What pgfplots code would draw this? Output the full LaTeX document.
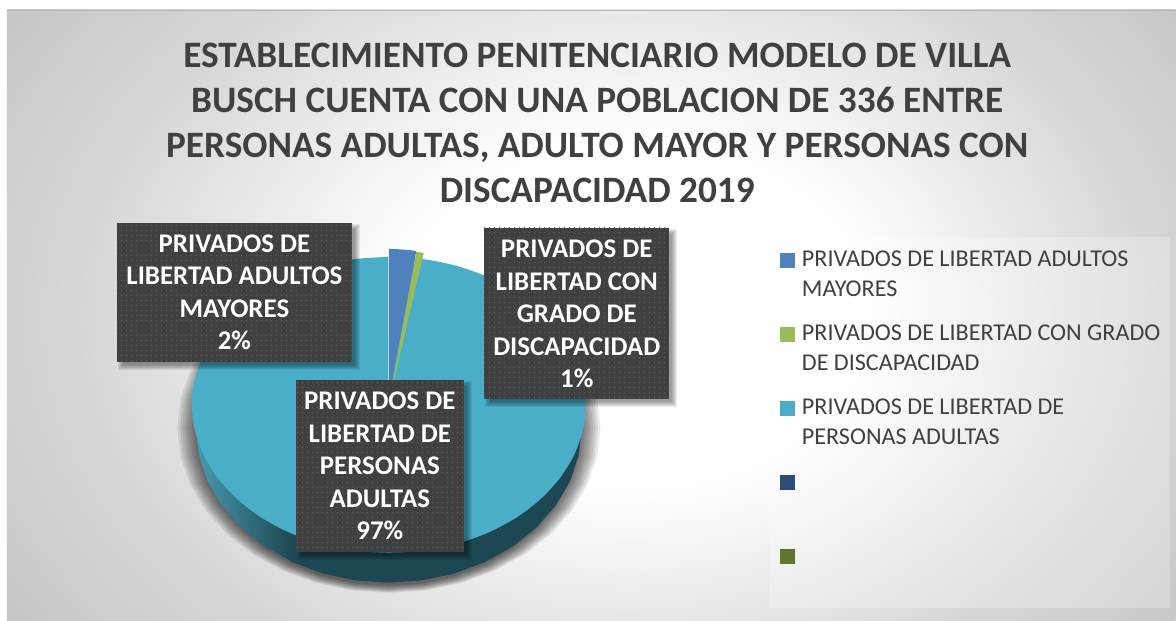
\documentclass[border=0pt]{standalone}
\usepackage{fontspec}
\setmainfont{Carlito}
\usepackage{pgfplots}
\pgfplotsset{compat=1.18}
\usepackage{pgfplotstable}
\usetikzlibrary{patterns.meta}
\definecolor{cbg}{HTML}{B8B8B8}
\definecolor{cbgm}{HTML}{D6D6D6}
\definecolor{ctxt}{HTML}{404040}
\definecolor{cblue}{HTML}{4F81BD}
\definecolor{cgreen}{HTML}{9BBB59}
\definecolor{cteal}{HTML}{4AAEC8}
\definecolor{cnavy}{HTML}{2C4D75}
\definecolor{colive}{HTML}{5F7530}
\definecolor{csideL}{HTML}{4A9AB0}
\definecolor{csideD}{HTML}{1D4853}
\definecolor{cdot}{HTML}{5E5E5E}
\pgfdeclareradialshading{cardbg}{\pgfpoint{2.5bp}{0bp}}{color(0bp)=(white); color(10bp)=(white); color(23bp)=(cbgm); color(38bp)=(cbg)}
% lower part of a unit circle, for the soft shadow under the pie
\pgfplotstableread{
ux uy
0.866 -0.500
0.940 -0.342
0.985 -0.174
1.000 0.000
0.985 0.174
0.940 0.342
0.866 0.500
0.766 0.643
0.643 0.766
0.500 0.866
0.342 0.940
0.174 0.985
0.000 1.000
-0.174 0.985
-0.342 0.940
-0.500 0.866
-0.643 0.766
-0.766 0.643
-0.866 0.500
-0.940 0.342
-0.985 0.174
-1.000 0.000
-0.985 -0.174
-0.940 -0.342
-0.866 -0.500
}\unitlow
\newcommand{\darkbox}[4]{%
  \pgfplotsinvokeforeach{0,...,5}{%
    \fill[black,opacity=.075] (axis cs:{#1+1+##1},{#2+1+##1}) rectangle (axis cs:{#3+8-##1},{#4+8-##1});
  }
  \fill[ctxt] (axis cs:#1,#2) rectangle (axis cs:#3,#4);
  \fill[pattern={Dots[radius=0.55pt,distance=4pt]},pattern color=cdot] (axis cs:#1,#2) rectangle (axis cs:#3,#4);
}
\begin{document}
\begin{tikzpicture}
\begin{axis}[
  scale only axis, width=882pt, height=465.75pt,
  xmin=0, xmax=1176, ymin=0, ymax=621, y dir=reverse,
  hide axis, clip=false,
]
% page and card
\fill[white] (axis cs:0,0) rectangle (axis cs:1176,621);
\begin{scope}
\clip (axis cs:7,10) rectangle (axis cs:1176,621);
\shade[shading=cardbg] (axis cs:7,-120) rectangle (axis cs:1176,751);
\end{scope}
\draw[color=cbg,line width=.75pt] (axis cs:7,10.5) -- (axis cs:1176,10.5);
% legend panel
\fill[white,opacity=.25] (axis cs:769,237) rectangle (axis cs:1170,608);
% shadow
\pgfplotsinvokeforeach{1,...,9}{%
  \addplot[fill=black,fill opacity=.085,draw=none,forget plot]
    table[x expr={389+\thisrow{ux}*(190+#1*2.4)},y expr={428+\thisrow{uy}*(157+#1*0.9)}] {\unitlow} -- cycle;
}
% side of the pie
\addplot[draw=none,fill=csideD,forget plot] coordinates {
 (582,428) (579.1,454.9) (570.4,481) (556.1,505.5) (536.8,527.6) (513.1,546.7) (485.5,562.2) (455,573.7) (422.5,580.6) (389,583)
 (355.5,580.6) (323,573.7) (292.5,562.2) (292.5,428)
} -- cycle;
\addplot[draw=none,left color=csideL,right color=csideD,forget plot] coordinates {
 (293,562.4) (264.9,546.7) (241.2,527.6) (221.9,505.5) (207.6,481) (198.9,454.9) (196,428) (293,428)
} -- cycle;
% top face: adults
\addplot[draw=none,fill=cteal,smooth,forget plot] coordinates {
 (389,257) (423.2,259.2) (456.4,265.9) (487.5,276.8) (515.6,291.6) (539.9,309.9) (559.6,331) (574.1,354.4) (583,379.3) (586,405)
 (583,430.7) (574.1,455.6) (559.6,479) (539.9,500.1) (515.6,518.4) (487.5,533.2) (456.4,544.1) (423.2,550.8) (389,553)
 (354.8,550.8) (321.6,544.1) (290.5,533.2) (262.4,518.4) (238.1,500.1) (218.4,479) (203.9,455.6) (195,430.7) (192,405)
 (195,379.3) (203.9,354.4) (218.4,331) (238.1,309.9) (262.4,291.6) (290.5,276.8) (321.6,265.9) (354.8,259.2) (389,257)
} -- cycle;
% green slice
\addplot[draw=none,fill=cgreen,forget plot] coordinates {(390,398) (416.5,252) (420,252.4) (424,253)} -- cycle;
% blue slice
\addplot[draw=none,fill=cblue,forget plot] coordinates {(389,398) (389,249) (398,249.3) (407,250) (416.5,251)} -- cycle;
\addplot[color=white,opacity=.6,line width=.9pt,forget plot] coordinates {(388.6,250) (388.6,390)};
% labels
\darkbox{117}{223}{352}{362}
\darkbox{484}{228}{669}{399}
\darkbox{296}{380}{464}{552}
\node[text=white,align=center,font=\fontsize{20.2}{24.4}\selectfont\bfseries] at (axis cs:234.5,292.5)
  {PRIVADOS DE\\LIBERTAD ADULTOS\\MAYORES\\2\%};
\node[text=white,align=center,font=\fontsize{20.2}{24.4}\selectfont\bfseries] at (axis cs:577,314)
  {PRIVADOS DE\\LIBERTAD CON\\GRADO DE\\DISCAPACIDAD\\1\%};
\node[text=white,align=center,font=\fontsize{20.2}{24.4}\selectfont\bfseries] at (axis cs:380,466)
  {PRIVADOS DE\\LIBERTAD DE\\PERSONAS\\ADULTAS\\97\%};
% title
\node[text=ctxt,align=center,font=\fontsize{27.95}{33.9}\selectfont\bfseries] at (axis cs:597.5,123)
  {ESTABLECIMIENTO PENITENCIARIO MODELO DE VILLA\\BUSCH CUENTA CON UNA POBLACION DE 336 ENTRE\\PERSONAS ADULTAS, ADULTO MAYOR Y PERSONAS CON\\DISCAPACIDAD 2019};
% legend
\addplot[only marks,mark=square*,mark size=5.25pt,color=cblue,forget plot] coordinates {(788,260)};
\addplot[only marks,mark=square*,mark size=5.25pt,color=cgreen,forget plot] coordinates {(788,334)};
\addplot[only marks,mark=square*,mark size=5.25pt,color=cteal,forget plot] coordinates {(788,408)};
\addplot[only marks,mark=square*,mark size=5.25pt,color=cnavy,forget plot] coordinates {(788,482)};
\addplot[only marks,mark=square*,mark size=5.25pt,color=colive,forget plot] coordinates {(788,556)};
\node[text=ctxt,align=left,anchor=north west,inner sep=0pt,font=\fontsize{18.1}{22.5}\selectfont] at (axis cs:802,251)
  {PRIVADOS DE LIBERTAD ADULTOS\\MAYORES};
\node[text=ctxt,align=left,anchor=north west,inner sep=0pt,font=\fontsize{18.1}{22.5}\selectfont] at (axis cs:802,325)
  {PRIVADOS DE LIBERTAD CON GRADO\\DE DISCAPACIDAD};
\node[text=ctxt,align=left,anchor=north west,inner sep=0pt,font=\fontsize{18.1}{22.5}\selectfont] at (axis cs:802,399)
  {PRIVADOS DE LIBERTAD DE\\PERSONAS ADULTAS};
\end{axis}
\end{tikzpicture}
\end{document}
